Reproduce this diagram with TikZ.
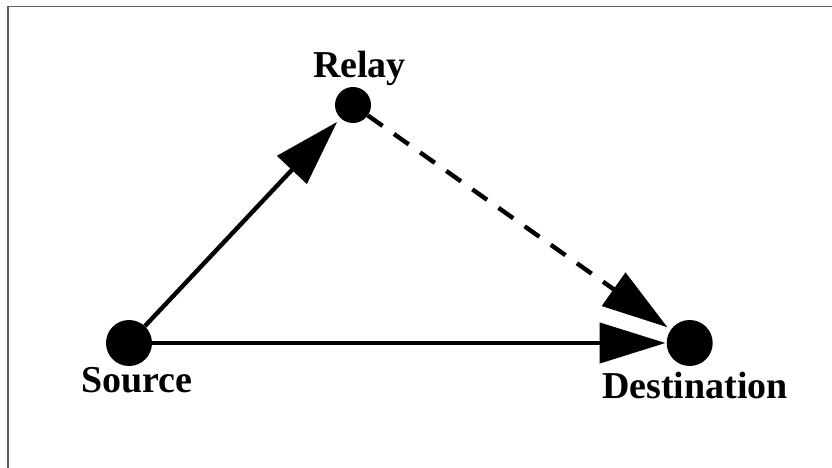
\documentclass[tikz,border=0pt]{standalone}
\usepackage{fontspec}
\setmainfont{Liberation Serif}
\usetikzlibrary{arrows.meta}
\begin{document}
\begin{tikzpicture}[x=1pt,y=-1pt,
  dot/.style={circle,fill=black,inner sep=0pt,minimum size=#1},
  lbl/.style={anchor=base,font=\fontsize{38}{40}\selectfont\bfseries,inner sep=0pt},
  conn/.style={line width=4.4pt,-{Triangle[length=66pt,width=40pt]}},
  frameline/.style={draw={rgb,255:red,95;green,95;blue,95},line width=1.8pt}]
\useasboundingbox (0,0) rectangle (832,468);
\coordinate (ftop) at (832,6.5);
\coordinate (fcorner) at (8.3,6.5);
\coordinate (fbottom) at (8.3,468);
\draw[frameline] (ftop) -- (fcorner) -- (fbottom);
\node[dot=46pt] (src) at (129,343) {};
\node[dot=36pt] (rel) at (353,105) {};
\node[dot=46pt] (dst) at (689.7,343) {};
\node[lbl] (srcl) at (137,392) {Source};
\node[lbl] (rell) at (359.5,78) {Relay};
\node[lbl] (dstl) at (695,398) {Destination};
\draw[conn,shorten >=5pt] (src) -- (rel);
\draw[conn,shorten >=1pt] (src) -- (dst);
\draw[conn,dash pattern=on 18pt off 14pt,shorten >=4pt] (rel) -- (dst);
\end{tikzpicture}
\end{document}
